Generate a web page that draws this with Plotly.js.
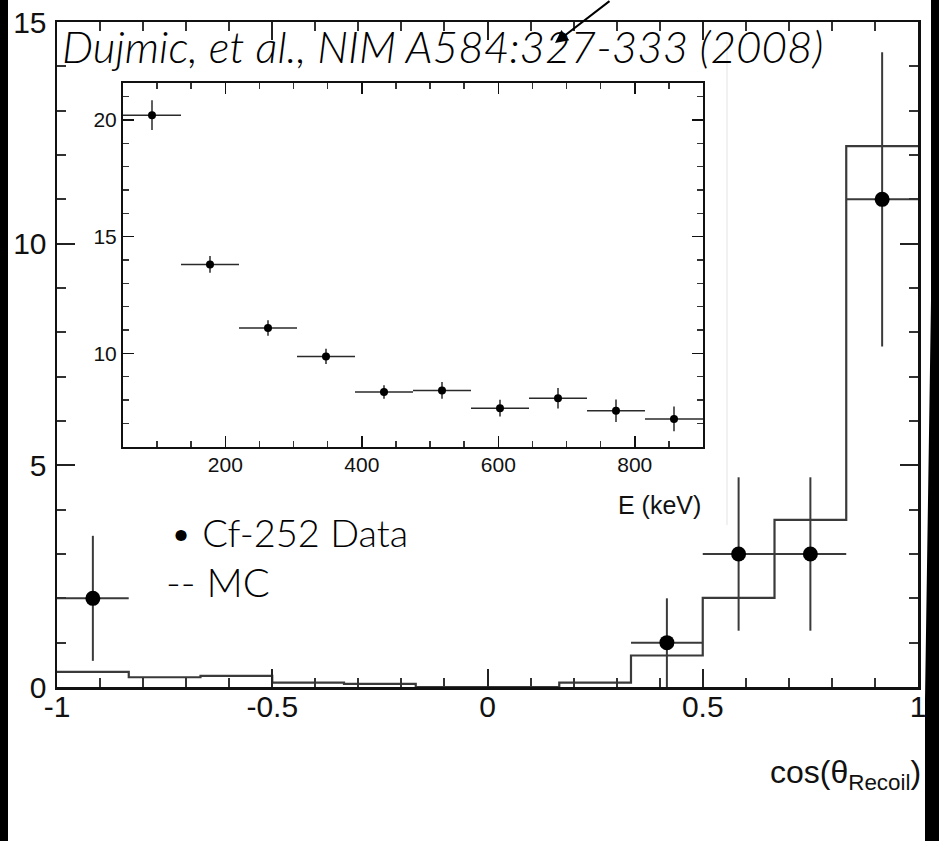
<!DOCTYPE html>
<html>
<head>
<meta charset="utf-8">
<script src="https://cdn.plot.ly/plotly-3.0.1.min.js"></script>
<style>
html,body{margin:0;padding:0;background:#fff;}
#chart{width:939px;height:841px;}
</style>
</head>
<body>
<div id="chart"></div>
<script>
// ---- main histogram: cos(theta_recoil) ----
const binEdges = [-1, -0.8333, -0.6667, -0.5, -0.3333, -0.1667, 0, 0.1667, 0.3333, 0.5, 0.6667, 0.8333, 1];
const mcCounts = [0.34, 0.22, 0.25, 0.10, 0.07, 0, 0, 0.10, 0.71, 2.01, 3.77, 12.2];
const dataX = [-0.9167, 0.4167, 0.5833, 0.75, 0.9167];
const dataY = [2, 1, 3, 3, 11];
const dataErrY = [1.41, 1.0, 1.73, 1.73, 3.32];
const dataErrX = [0.0833, 0.0833, 0.0833, 0.0833, 0.0833];
const mainXTicks = [-1, -0.5, 0, 0.5, 1];
const mainXTickText = ['-1', '-0.5', '0', '0.5', '1'];
const mainYTicks = [0, 5, 10, 15];

// ---- inset: energy spectrum ----
const insetE = [92.5, 177.5, 262.5, 347.5, 432.5, 517.5, 602.5, 687.5, 772.5, 857.5];
const insetY = [20.21, 13.81, 11.09, 9.87, 8.34, 8.41, 7.65, 8.08, 7.54, 7.19];
const insetErrY = [0.64, 0.36, 0.33, 0.33, 0.29, 0.36, 0.36, 0.44, 0.48, 0.53];
const insetErrX = [42.5, 42.5, 42.5, 42.5, 42.5, 42.5, 42.5, 42.5, 42.5, 42.5];
const insetXTicks = [200, 400, 600, 800];
const insetYTicks = [10, 15, 20];

const mcStepY = mcCounts.concat([mcCounts[mcCounts.length - 1]]);

const traces = [
  {
    type: 'scatter', mode: 'lines', x: binEdges, y: mcStepY,
    line: {shape: 'hv', color: '#3a3a3a', width: 2.2},
    xaxis: 'x', yaxis: 'y', hoverinfo: 'skip', cliponaxis: true
  },
  {
    type: 'scatter', mode: 'markers', x: dataX, y: dataY,
    marker: {color: '#000', size: 15},
    error_y: {type: 'data', array: dataErrY, visible: true, width: 0, thickness: 2, color: '#3a3a3a'},
    error_x: {type: 'data', array: dataErrX, visible: true, width: 0, thickness: 2, color: '#3a3a3a'},
    xaxis: 'x', yaxis: 'y', cliponaxis: false
  },
  {
    type: 'scatter', mode: 'markers', x: insetE, y: insetY,
    marker: {color: '#000', size: 8},
    error_y: {type: 'data', array: insetErrY, visible: true, width: 0, thickness: 1.5, color: '#2a2a2a'},
    error_x: {type: 'data', array: insetErrX, visible: true, width: 0, thickness: 1.5, color: '#2a2a2a'},
    xaxis: 'x2', yaxis: 'y2', cliponaxis: false
  }
];

const mL = 57, mR = 21, mT = 22, mB = 154;
const W = 939, H = 841;
const pw = W - mL - mR, ph = H - mT - mB;
const px = v => (v - mL) / pw;
const py = v => (H - mB - v) / ph;

const tickFont = {family: 'Liberation Sans, Arial, sans-serif', size: 30, color: '#111'};
const insetFont = {family: 'Liberation Sans, Arial, sans-serif', size: 21, color: '#111'};

const layout = {
  width: W, height: H,
  margin: {l: mL, r: mR, t: mT, b: mB},
  paper_bgcolor: '#fff', plot_bgcolor: '#fff',
  showlegend: false,
  xaxis: {
    range: [-1, 1], tickvals: mainXTicks, ticktext: mainXTickText,
    ticks: 'inside', ticklen: 18, tickwidth: 2, tickcolor: '#222',
    minor: {dtick: 0.1, tick0: 0, ticks: 'inside', ticklen: 9, tickwidth: 2, tickcolor: '#333'},
    showline: true, linecolor: '#111', linewidth: 2.5, mirror: 'allticks',
    showgrid: false, zeroline: false, tickfont: tickFont, ticklabelstandoff: -9,
    fixedrange: true
  },
  yaxis: {
    range: [0, 15], tickvals: mainYTicks,
    ticks: 'inside', ticklen: 18, tickwidth: 2, tickcolor: '#222',
    minor: {dtick: 1, tick0: 0, ticks: 'inside', ticklen: 9, tickwidth: 2, tickcolor: '#333'},
    showline: true, linecolor: '#111', linewidth: 2.5, mirror: 'allticks',
    showgrid: false, zeroline: false, tickfont: tickFont, ticklabelstandoff: 2,
    fixedrange: true
  },
  xaxis2: {
    domain: [px(123), px(703)], anchor: 'y2', range: [50, 900], tickvals: insetXTicks,
    ticks: 'inside', ticklen: 11, tickwidth: 1.5, tickcolor: '#111',
    minor: {dtick: 50, tick0: 0, ticks: 'inside', ticklen: 6, tickwidth: 1.5, tickcolor: '#333'},
    showline: true, linecolor: '#111', linewidth: 2, mirror: 'allticks',
    showgrid: false, zeroline: false, tickfont: insetFont, ticklabelstandoff: -2
  },
  yaxis2: {
    domain: [py(446.7), py(82.7)], anchor: 'x2', range: [6, 21.6], tickvals: insetYTicks,
    ticks: 'inside', ticklen: 11, tickwidth: 1.5, tickcolor: '#111',
    minor: {dtick: 1, tick0: 0, ticks: 'inside', ticklen: 6, tickwidth: 1.5, tickcolor: '#333'},
    showline: true, linecolor: '#111', linewidth: 2, mirror: 'allticks',
    showgrid: false, zeroline: false, tickfont: insetFont
  },
  shapes: [
    // inset white background
    {type: 'rect', xref: 'paper', yref: 'paper', x0: px(123), x1: px(703), y0: py(446.7), y1: py(82.7),
     fillcolor: '#fff', line: {width: 0}, layer: 'below'},
    // faint edge of pasted inset image
    {type: 'line', xref: 'paper', yref: 'paper', x0: px(727), x1: px(727), y0: py(40), y1: py(525),
     line: {color: '#ececec', width: 1.5}},
    // left black band
    {type: 'rect', xref: 'paper', yref: 'paper', x0: px(0), x1: px(8), y0: py(H), y1: py(0),
     fillcolor: '#000', line: {width: 0}},
    // right black band
    {type: 'path', xref: 'paper', yref: 'paper',
     path: 'M ' + px(931) + ' ' + py(0) + ' L ' + px(W) + ' ' + py(0) + ' L ' + px(W) + ' ' + py(H) +
           ' L ' + px(925) + ' ' + py(H) + ' L ' + px(925) + ' ' + py(700) + ' L ' + px(931) + ' ' + py(300) + ' Z',
     fillcolor: '#000', line: {width: 0}}
  ],
  annotations: [
    {xref: 'paper', yref: 'paper', x: px(60), y: py(46), xanchor: 'left', yanchor: 'middle',
     text: 'Dujmic, et al., NIM A584:327-333 (2008)', showarrow: false,
     font: {family: 'Lato, Open Sans, sans-serif', size: 44, color: '#000', style: 'italic', weight: 300}},
    {xref: 'paper', yref: 'paper', x: px(703), y: py(505), xanchor: 'right', yanchor: 'middle',
     text: 'E (keV)', showarrow: false,
     font: {family: 'Liberation Sans, Arial, sans-serif', size: 25, color: '#111'}},
    {xref: 'paper', yref: 'paper', x: px(168), y: py(532), xanchor: 'left', yanchor: 'middle',
     text: '• Cf-252 Data', showarrow: false,
     font: {family: 'Lato, Open Sans, sans-serif', size: 38, color: '#000', weight: 300}},
    {xref: 'paper', yref: 'paper', x: px(164), y: py(582), xanchor: 'left', yanchor: 'middle',
     text: '-- MC', showarrow: false,
     font: {family: 'Lato, Open Sans, sans-serif', size: 40, color: '#000', weight: 300}},
    {xref: 'paper', yref: 'paper', x: px(923), y: py(775), xanchor: 'right', yanchor: 'middle',
     text: 'cos(θ<sub>Recoil</sub>)', showarrow: false,
     font: {family: 'Liberation Sans, Arial, sans-serif', size: 32, color: '#111'}},
    // arrow coming from above
    {xref: 'paper', yref: 'paper', x: px(555), y: py(43), ax: 56, ay: -50, axref: 'pixel', ayref: 'pixel',
     text: '', showarrow: true, arrowhead: 2, arrowsize: 1.3, arrowwidth: 2, arrowcolor: '#000'}
  ]
};

Plotly.newPlot('chart', traces, layout, {displayModeBar: false, staticPlot: true});
</script>
</body>
</html>
